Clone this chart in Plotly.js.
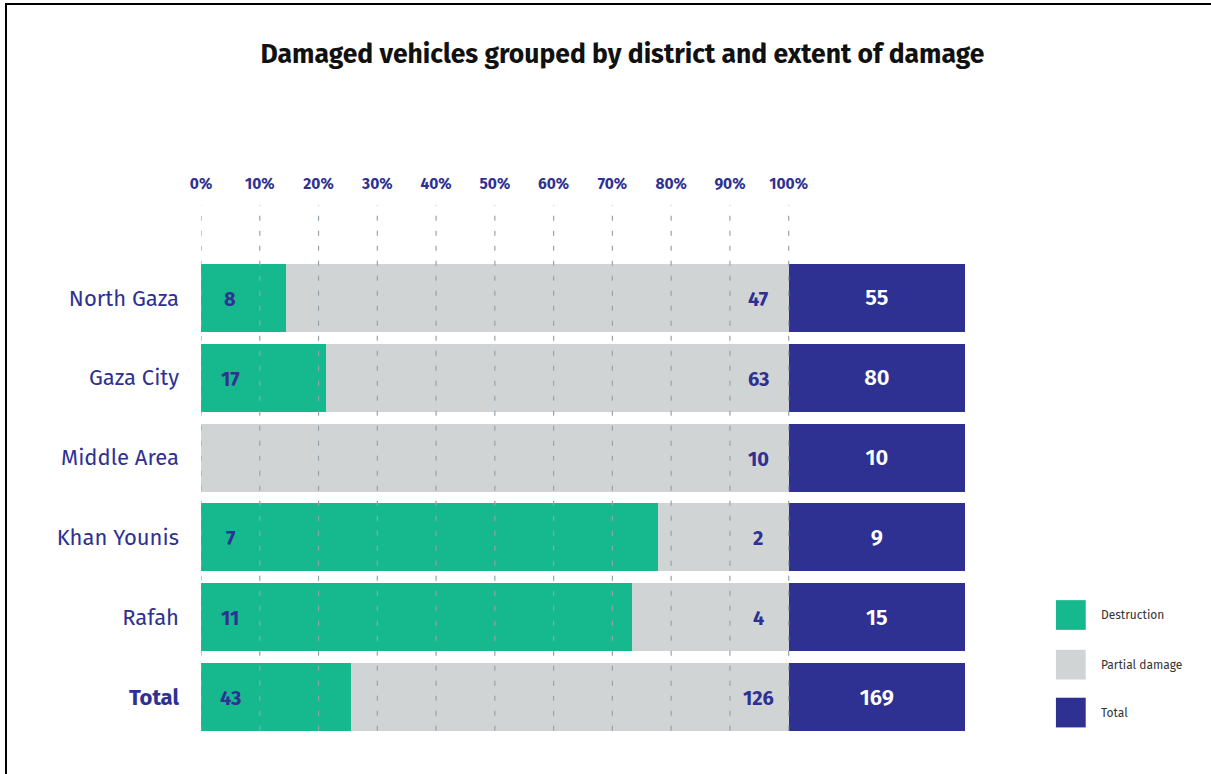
<!DOCTYPE html>
<html>
<head>
<meta charset="utf-8">
<script src="https://cdn.plot.ly/plotly-3.0.1.min.js"></script>
<style>
  html, body { margin: 0; padding: 0; background: #fff; }
  #wrap { position: relative; width: 1211px; height: 774px; overflow: hidden; }
  #chart { position: absolute; left: 0; top: 0; width: 1211px; height: 774px; }
  #frame { position: absolute; left: 5px; top: 3px; width: 1300px; height: 900px;
           border-left: 2px solid #000; border-top: 2px solid #000; pointer-events: none; }
</style>
</head>
<body>
<div id="wrap"><div id="chart"></div><div id="frame"></div></div>
<script>
// ---- data ----
const districts = ["North Gaza", "Gaza City", "Middle Area", "Khan Younis", "Rafah", "Total"];
const destruction = [8, 17, 0, 7, 11, 43];
const partialDamage = [47, 63, 10, 2, 4, 126];
const totals = [55, 80, 10, 9, 15, 169];
const tickValues = [0, 10, 20, 30, 40, 50, 60, 70, 80, 90, 100];
const tickLabels = ["0%", "10%", "20%", "30%", "40%", "50%", "60%", "70%", "80%", "90%", "100%"];
const seriesNames = ["Destruction", "Partial damage", "Total"];

// ---- styles ----
const colors = ["#16b88e", "#d1d4d5", "#2e3192"];
const navy = "#2e3192";
const FONT = "'Fira Sans', 'Noto Sans', 'Open Sans', sans-serif";
const TOTAL_BAR_WIDTH = 30; // fixed visual width of the total column (axis units)

const destPct = destruction.map((d, i) => d / totals[i] * 100);
const partPct = partialDamage.map((p, i) => p / totals[i] * 100);
const yLabels = districts.map(d => d === "Total" ? "<b>Total</b>" : d);

const traces = [
  { type: "bar", orientation: "h", y: yLabels, x: destPct, name: seriesNames[0],
    marker: { color: colors[0] }, hoverinfo: "skip", showlegend: false },
  { type: "bar", orientation: "h", y: yLabels, x: partPct, name: seriesNames[1],
    marker: { color: colors[1] }, hoverinfo: "skip", showlegend: false },
  { type: "bar", orientation: "h", y: yLabels, x: totals.map(() => TOTAL_BAR_WIDTH), name: seriesNames[2],
    marker: { color: colors[2] }, hoverinfo: "skip", showlegend: false,
    text: totals.map(String), textposition: "inside", insidetextanchor: "middle",
    textfont: { family: FONT, size: 22, color: "#ffffff", weight: 600 }, textangle: 0 }
];

const annotations = [];
districts.forEach((d, i) => {
  if (destruction[i] > 0) {
    annotations.push({ x: 5, y: yLabels[i], xref: "x", yref: "y", yshift: -1, text: "<b>" + destruction[i] + "</b>",
      showarrow: false, font: { family: FONT, size: 20, color: navy }, xanchor: "center", yanchor: "middle" });
  }
  annotations.push({ x: 94.8, y: yLabels[i], xref: "x", yref: "y", yshift: -1, text: "<b>" + partialDamage[i] + "</b>",
    showarrow: false, font: { family: FONT, size: 20, color: navy }, xanchor: "center", yanchor: "middle" });
});

// custom legend (large squares)
const shapes = [];
const legendY = [0.2547, 0.151, 0.051];
seriesNames.forEach((n, i) => {
  shapes.push({ type: "rect", xref: "paper", yref: "paper", x0: 1.119, x1: 1.158,
    y0: legendY[i] - 0.031, y1: legendY[i] + 0.031, fillcolor: colors[i], line: { width: 0 }, layer: "above" });
  annotations.push({ xref: "paper", yref: "paper", x: 1.176, y: legendY[i], text: n, showarrow: false,
    xanchor: "left", yanchor: "middle", font: { family: FONT, size: 12, color: "#333333" } });
});

// dashed grid lines drawn above bars
tickValues.forEach(v => {
  shapes.push({ type: "line", xref: "x", yref: "paper", x0: v, x1: v, y0: 0.013, y1: 1.11,
    line: { color: "#97a3ab", width: 1.2, dash: "5px,10px" }, layer: "above" });
});

const layout = {
  width: 1211, height: 774,
  margin: { l: 201, r: 246, t: 258, b: 37, pad: 0 },
  paper_bgcolor: "rgba(0,0,0,0)", plot_bgcolor: "rgba(0,0,0,0)",
  barmode: "stack", bargap: 0.15,
  showlegend: false,
  title: { text: "<b>Damaged vehicles grouped by district and extent of damage</b>",
    x: 0.514, xanchor: "center", y: 0.931, yanchor: "middle",
    font: { family: FONT, size: 26.5, color: "#111111" } },
  xaxis: {
    range: [0, 130], side: "top", showgrid: false, zeroline: false, showline: false,
    tickmode: "array", tickvals: tickValues, ticktext: tickLabels,
    tickfont: { family: FONT, size: 15.5, color: navy, weight: 700 },
    ticks: "", ticklabelstandoff: 65, fixedrange: true
  },
  yaxis: {
    autorange: "reversed", showgrid: false, zeroline: false, showline: false,
    tickfont: { family: FONT, size: 22, color: navy }, ticks: "", ticklabelstandoff: 21, fixedrange: true
  },
  annotations: annotations,
  shapes: shapes,
  uniformtext: { mode: false }
};

Plotly.newPlot("chart", traces, layout, { displayModeBar: false, staticPlot: true });
</script>
</body>
</html>
